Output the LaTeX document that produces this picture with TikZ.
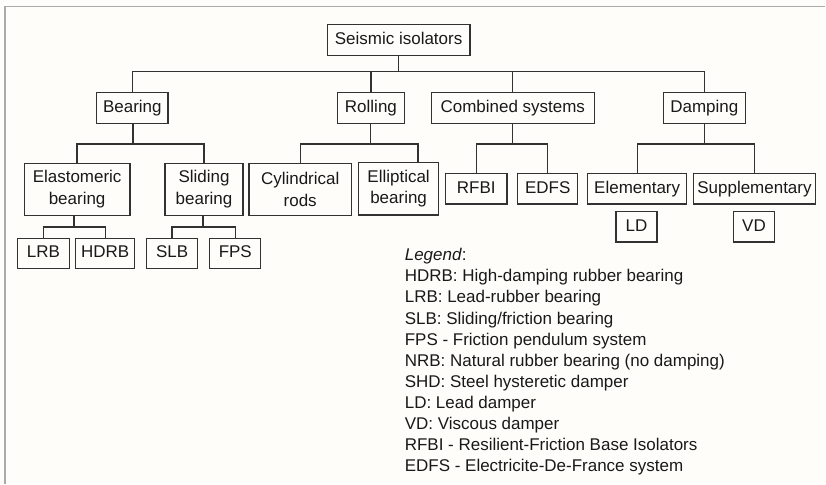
\documentclass[tikz,border=0pt]{standalone}
\usepackage{fontspec}
\setmainfont{Liberation Sans}
\definecolor{inkgray}{RGB}{50,50,50}
\definecolor{textgray}{RGB}{25,25,25}
\definecolor{framegray}{RGB}{170,170,170}
\definecolor{paper}{RGB}{254,253,250}
\newcommand{\treefont}{\fontsize{17}{21.5}\selectfont}

\begin{document}
\begin{tikzpicture}[x=1pt, y=-1pt,
    box/.style={draw=inkgray, line width=1.3pt, fill=paper, text=textgray, font=\treefont,
      inner sep=0pt, minimum height=30.6pt, text height=12.4pt, text depth=3.6pt},
    twobox/.style={draw=inkgray, line width=1.3pt, fill=paper, text=textgray, font=\treefont,
      inner sep=0pt, minimum height=52.3pt, align=center},
    link/.style={draw=inkgray, line width=1.3pt}]

\fill[paper] (0,0) rectangle (826,484);
\draw[framegray, line width=1.6pt] (5,484) -- (5,6.5) -- (826,6.5);

% top and first level
\node[box, minimum width=142.6pt] (root) at (399,40) {Seismic isolators};
\node[box, minimum width=71.6pt] (bearing) at (132.5,108) {Bearing};
\node[box, minimum width=67.3pt] (rolling) at (371.3,108) {Rolling};
\node[box, minimum width=163.3pt] (combined) at (513.3,108) {Combined systems};
\node[box, minimum width=82pt] (damping) at (705,108) {Damping};

% second level
\node[twobox, minimum width=105.7pt] (elast) at (77.2,189.5) {Elastomeric\\bearing};
\node[twobox, minimum width=78.3pt] (sliding) at (204.2,189.5) {Sliding\\bearing};
\node[twobox, minimum width=102.4pt] (cyl) at (300.5,189.5) {Cylindrical\\rods};
\node[twobox, minimum width=80pt] (ellip) at (399,189) {Elliptical\\bearing};
\node[box, minimum width=61.3pt] (rfbi) at (476.7,189) {RFBI};
\node[box, minimum width=60pt] (edfs) at (548.3,189) {EDFS};
\node[box, minimum width=99pt] (elem) at (637.8,189) {Elementary};
\node[box, minimum width=121.7pt] (suppl) at (755.2,189) {Supplementary};
\node[box, minimum width=41pt] (ld) at (637.2,227) {LD};
\node[box, minimum width=41.3pt] (vd) at (754.7,227) {VD};

% third level
\node[box, minimum width=51.6pt] (lrb) at (43.5,253.7) {LRB};
\node[box, minimum width=59.3pt] (hdrb) at (105.3,253.7) {HDRB};
\node[box, minimum width=51.3pt] (slb) at (172.3,253.7) {SLB};
\node[box, minimum width=51pt] (fps) at (235.5,253.7) {FPS};

% junctions
\coordinate (j0) at (399,71.7);
\coordinate (jbear) at (133,144);
\coordinate (jroll) at (371,144);
\coordinate (jcomb) at (513.3,144);
\coordinate (jdamp) at (705,144);
\coordinate (jelast) at (74,227.3);
\coordinate (jslide) at (203.3,227.3);

\draw[link] (root) -- (j0);
\draw[link] (bearing) |- (j0) -| (damping);
\draw[link] (j0 -| rolling) -- (rolling);
\draw[link] (j0 -| combined) -- (combined);

\draw[link] (jbear |- bearing.south) -- (jbear);
\draw[link] (elast) |- (jbear) -| (sliding);
\draw[link] (jroll |- rolling.south) -- (jroll);
\draw[link] (cyl) |- (jroll) -| ([xshift=19.4pt]ellip.north);
\draw[link] (jcomb |- combined.south) -- (jcomb);
\draw[link] (rfbi) |- (jcomb) -| (edfs);
\draw[link] (jdamp |- damping.south) -- (jdamp);
\draw[link] (elem) |- (jdamp) -| (suppl);

\draw[link] (jelast |- elast.south) -- (jelast);
\draw[link] (lrb) |- (jelast) -| (hdrb);
\draw[link] (jslide |- sliding.south) -- (jslide);
\draw[link] (slb) |- (jslide) -| (fps);

% legend
\node[anchor=north west, inner sep=0pt, align=left, text=textgray,
  font=\fontsize{17}{21.1}\selectfont] (legend) at (405,248.5) {\textit{Legend}:\\
HDRB: High-damping rubber bearing\\
LRB: Lead-rubber bearing\\
SLB: Sliding/friction bearing\\
FPS - Friction pendulum system\\
NRB: Natural rubber bearing (no damping)\\
SHD: Steel hysteretic damper\\
LD: Lead damper\\
VD: Viscous damper\\
RFBI - Resilient-Friction Base Isolators\\
EDFS - Electricite-De-France system};
\end{tikzpicture}
\end{document}
